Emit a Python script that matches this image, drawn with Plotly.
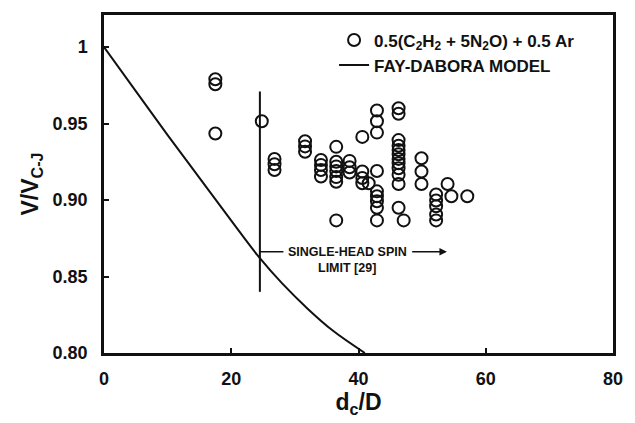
import plotly.graph_objects as go

# ---------------- data ----------------
# Experimental points: 0.5(C2H2 + 5N2O) + 0.5 Ar
exp_x = [17.5, 17.5, 17.5,
         24.8,
         26.8, 26.8, 26.8,
         31.6, 31.6, 31.6,
         34.1, 34.1, 34.1, 34.1,
         36.5, 36.5, 36.5, 36.5, 36.5, 36.5, 36.5,
         38.6, 38.6, 38.6,
         40.6, 40.6, 40.6, 40.6,
         41.6,
         42.9, 42.9, 42.9, 42.9, 42.9, 42.9, 42.9, 42.9, 42.9,
         46.3, 46.3, 46.3, 46.3, 46.3, 46.3, 46.3, 46.3, 46.3, 46.3, 46.3, 46.3,
         47.1,
         49.9, 49.9, 49.9,
         52.2, 52.2, 52.2, 52.2, 52.2,
         54.0, 54.6, 57.1]
exp_y = [0.979, 0.9757, 0.9435,
         0.9515,
         0.9269, 0.9234, 0.9197,
         0.9385, 0.9351, 0.9316,
         0.9262, 0.9230, 0.9197, 0.9154,
         0.9348, 0.9250, 0.9220, 0.9190, 0.9150, 0.9120, 0.8867,
         0.9256, 0.9215, 0.9180,
         0.9413, 0.9187, 0.9144, 0.9110,
         0.9110,
         0.9586, 0.9515, 0.9441, 0.9190, 0.9057, 0.9025, 0.8992, 0.8950, 0.8867,
         0.9600, 0.9564, 0.9392, 0.9355, 0.9327, 0.9299, 0.9269, 0.9241, 0.9208, 0.9165, 0.9105, 0.8950,
         0.8867,
         0.9273, 0.9187, 0.9105,
         0.9036, 0.8997, 0.8960, 0.8906, 0.8867,
         0.9105, 0.9025, 0.9025]

# Fay-Dabora model curve
fd_x = [0.0, 5.0, 10.0, 15.0, 20.0, 24.5, 28.0, 32.0, 36.0, 41.0]
fd_y = [1.0, 0.9712, 0.9425, 0.9145, 0.8866, 0.8620, 0.8455, 0.8290, 0.8145, 0.80]

# Single-head spin limit
spin_x = 24.5
spin_y = [0.84, 0.971]
spin_arrow_y = 0.8662
spin_lead_x = [24.5, 28.2]
spin_arrow_x = [48.2, 53.9]
spin_text_x = 38.2
spin_text_y = [0.8662, 0.8555]

x_ticks = [0, 20, 40, 60, 80]
y_ticks = [0.80, 0.85, 0.90, 0.95, 1.0]
y_ticktext = ["0.80", "0.85", "0.90", "0.95", "1"]

FONT = "Liberation Sans, Arial, sans-serif"
INK = "#111111"

fig = go.Figure()

fig.add_trace(go.Scatter(
    x=exp_x, y=exp_y, mode="markers",
    name="0.5(C<sub>2</sub>H<sub>2</sub> + 5N<sub>2</sub>O) + 0.5 Ar",
    marker=dict(symbol="circle-open", size=12, color=INK, line=dict(width=2, color=INK)),
))
fig.add_trace(go.Scatter(
    x=fd_x, y=fd_y, mode="lines", name="FAY-DABORA MODEL",
    line=dict(color=INK, width=2, shape="spline", smoothing=1.0),
))

# spin limit vertical line
fig.add_shape(type="line", xref="x", yref="y", x0=spin_x, x1=spin_x,
              y0=spin_y[0], y1=spin_y[1], line=dict(color=INK, width=2))
fig.add_shape(type="line", xref="x", yref="y", x0=spin_lead_x[0], x1=spin_lead_x[1],
              y0=spin_arrow_y, y1=spin_arrow_y, line=dict(color=INK, width=1.5))
fig.add_annotation(x=spin_arrow_x[1], y=spin_arrow_y, ax=spin_arrow_x[0], ay=spin_arrow_y,
                   xref="x", yref="y", axref="x", ayref="y", text="",
                   showarrow=True, arrowhead=2, arrowsize=1, arrowwidth=1.5, arrowcolor=INK)
fig.add_annotation(x=spin_text_x, y=spin_text_y[0], xref="x", yref="y",
                   text="SINGLE-HEAD SPIN", showarrow=False,
                   font=dict(family=FONT, size=12.5, color=INK, weight="bold"))
fig.add_annotation(x=spin_text_x, y=spin_text_y[1], xref="x", yref="y",
                   text="LIMIT [29]", showarrow=False,
                   font=dict(family=FONT, size=12.5, color=INK, weight="bold"))

axis_common = dict(
    showline=True, linecolor=INK, linewidth=2.5, mirror=True,
    ticks="inside", ticklen=5, tickwidth=2, tickcolor=INK,
    showgrid=False, zeroline=False,
    tickfont=dict(family=FONT, size=18, color=INK, weight="bold"),
)

fig.update_layout(
    width=635, height=423,
    margin=dict(l=104, r=12, t=14, b=68),
    paper_bgcolor="white", plot_bgcolor="white",
    font=dict(family=FONT, color=INK),
    xaxis=dict(range=[0, 80], tickvals=x_ticks, ticklabelstandoff=8,
               title=dict(text="d<sub>c</sub>/D", standoff=6,
                          font=dict(family=FONT, size=23, color=INK, weight="bold")),
               **axis_common),
    yaxis=dict(range=[0.80, 1.021], tickvals=y_ticks, ticktext=y_ticktext, ticklabelstandoff=10,
               title=dict(text="V/V<sub>C-J</sub>", standoff=8,
                          font=dict(family=FONT, size=23, color=INK, weight="bold")),
               **axis_common),
    showlegend=True,
    legend=dict(x=0.452, y=0.978, xanchor="left", yanchor="top",
                bgcolor="rgba(0,0,0,0)", borderwidth=0,
                font=dict(family=FONT, size=17, color=INK, weight="bold"),
                tracegroupgap=0, itemwidth=30),
)

fig.write_html("out.html")
